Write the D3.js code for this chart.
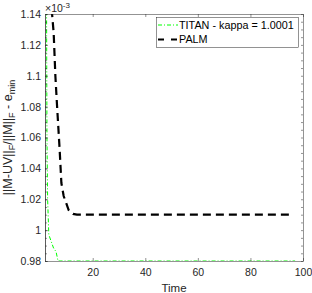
<!DOCTYPE html>
<html>
<head>
<meta charset="utf-8">
<script src="https://cdn.jsdelivr.net/npm/d3@7"></script>
<style>
  body { margin: 0; background: #fff; }
  svg { font-family: "Liberation Sans", Arial, sans-serif; }
  .axis path, .axis line { stroke: #262626; stroke-width: 0.5; }
  .axis text { fill: #262626; font-size: 10.5px; }
</style>
</head>
<body>
<svg id="chart" width="312" height="293"></svg>
<script>
// values in units of 1e-3
const titanT = [2.3, 2.45, 2.6, 2.85, 3.3, 5.1, 6.06, 6.8, 97];
const titanV = [1.2, 1.14, 1.06, 1.02, 0.997, 0.9884, 0.986, 0.98, 0.98];
const palmT = [4.3, 4.54, 5.15, 5.8, 6.44, 7.43, 8.08, 8.95, 10.85, 12.5, 14, 95];
const palmV = [1.16, 1.14, 1.1277, 1.0998, 1.0804, 1.0519, 1.0305, 1.0221, 1.013, 1.0105, 1.0101, 1.0101];
const xTicks = [20, 40, 60, 80, 100];
const yTicks = [0.98, 1, 1.02, 1.04, 1.06, 1.08, 1.1, 1.12, 1.14];
const yMinor = d3.range(0, 33).map(i => 0.98 + i * 0.005);
const legendNames = ['TITAN - kappa = 1.0001', 'PALM'];

let svg = d3.select('#chart');
let pLeft = 45, pRight = 303, pTop = 14, pBottom = 261;

let x = d3.scaleLinear().domain([1.85, 100]).range([pLeft, pRight]);
let y = d3.scaleLinear().domain([0.98, 1.14]).range([pBottom, pTop]);

svg.append('defs').append('clipPath').attr('id', 'clip')
  .append('rect')
  .attr('x', pLeft).attr('y', pTop)
  .attr('width', pRight - pLeft).attr('height', pBottom - pTop);

let line = d3.line().x(d => x(d[0])).y(d => y(d[1]));

let plot = svg.append('g').attr('clip-path', 'url(#clip)');

plot.append('path')
  .datum(titanT.map((t, i) => [t, titanV[i]]))
  .attr('d', line)
  .attr('fill', 'none')
  .attr('stroke', '#00ff00')
  .attr('stroke-width', 1)
  .attr('stroke-dasharray', '4,2,1,2');

plot.append('path')
  .datum(palmT.map((t, i) => [t, palmV[i]]))
  .attr('d', line)
  .attr('fill', 'none')
  .attr('stroke', '#000')
  .attr('stroke-width', 2.2)
  .attr('stroke-dasharray', '8,5');

// axes, ticks inside like matlab
svg.append('g').attr('class', 'axis')
  .attr('transform', `translate(0,${pBottom})`)
  .call(d3.axisBottom(x).tickValues(xTicks).tickSize(-3).tickPadding(8).tickSizeOuter(0));

svg.append('g').attr('class', 'axis')
  .attr('transform', `translate(0,${pTop})`)
  .call(d3.axisTop(x).tickValues(xTicks).tickSize(-3).tickFormat('').tickSizeOuter(0));

svg.append('g').attr('class', 'axis')
  .attr('transform', `translate(${pLeft},0)`)
  .call(d3.axisLeft(y).tickValues(yMinor).tickSize(-2).tickFormat('').tickSizeOuter(0));

svg.append('g').attr('class', 'axis')
  .attr('transform', `translate(${pLeft},0)`)
  .call(d3.axisLeft(y).tickValues(yTicks).tickSize(-3).tickPadding(4).tickFormat(d3.format('~g')).tickSizeOuter(0));

svg.append('g').attr('class', 'axis')
  .attr('transform', `translate(${pRight},0)`)
  .call(d3.axisRight(y).tickValues(yMinor).tickSize(-2).tickFormat('').tickSizeOuter(0));

// exponent
let expo = svg.append('text')
  .attr('x', pLeft).attr('y', 12)
  .attr('fill', '#262626')
  .style('font-size', '10.5px');
expo.append('tspan').text('×10');
expo.append('tspan').attr('dy', -4).style('font-size', '8px').text('-3');

// labels
svg.append('text')
  .attr('x', (pLeft + pRight) / 2).attr('y', 292)
  .attr('text-anchor', 'middle')
  .attr('fill', '#262626')
  .style('font-size', '11.5px')
  .text('Time');

let ylab = svg.append('text')
  .attr('transform', `translate(12,${(pTop + pBottom) / 2}) rotate(-90)`)
  .attr('text-anchor', 'middle')
  .attr('fill', '#262626')
  .style('font-size', '12.5px');
ylab.append('tspan').text('||M-UV||');
ylab.append('tspan').attr('dy', 3).style('font-size', '9px').text('F');
ylab.append('tspan').attr('dy', -3).text('/||M||');
ylab.append('tspan').attr('dy', 3).style('font-size', '9px').text('F');
ylab.append('tspan').attr('dy', -3).text(' - e');
ylab.append('tspan').attr('dy', 3).style('font-size', '9px').text('min');

// legend
let legend = svg.append('g').attr('class', 'legend');
legend.append('rect')
  .attr('x', 156.5).attr('y', 17.5)
  .attr('width', 142).attr('height', 30)
  .attr('fill', '#fff')
  .attr('stroke', '#262626').attr('stroke-width', 0.5);

let legStyles = [
  {color: '#00ff00', w: 1, dash: '4,2,1,2'},
  {color: '#000', w: 2.2, dash: '6,7'}
];
legendNames.forEach(function(name, i) {
  let ly = 25 + i * 14.5;
  legend.append('line')
    .attr('x1', 158).attr('x2', 178)
    .attr('y1', ly).attr('y2', ly)
    .attr('stroke', legStyles[i].color)
    .attr('stroke-width', legStyles[i].w)
    .attr('stroke-dasharray', legStyles[i].dash);
  legend.append('text')
    .attr('x', 179).attr('y', ly + 3.8)
    .attr('fill', '#000')
    .style('font-size', '10.8px')
    .text(name);
});
</script>
</body>
</html>
